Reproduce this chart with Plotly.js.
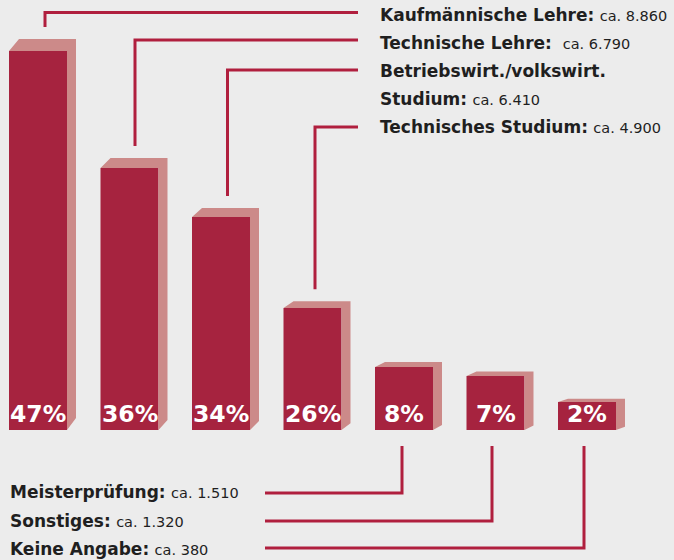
<!DOCTYPE html>
<html><head><meta charset="utf-8">
<script src="https://cdn.plot.ly/plotly-3.0.1.min.js"></script>
<style>html,body{margin:0;padding:0;background:#ECECEC;overflow:hidden}</style>
</head><body><div id="chart" style="width:674px;height:560px"></div>
<script>
// ---- data ----
const categories = ["Kaufmännische Lehre", "Technische Lehre", "Betriebswirt./volkswirt.|Studium", "Technisches Studium", "Meisterprüfung", "Sonstiges", "Keine Angabe"];
const counts = ["8.860", "6.790", "6.410", "4.900", "1.510", "1.320", "380"];
const percents = [47, 36, 34, 26, 8, 7, 2];
// drawn bar heights as shown in the picture (not proportional to the percentages)
const barHeights = [379, 262, 213, 122, 63, 54, 28];

// ---- layout constants (pixels) ----
const W = 674, H = 560, PX = 91.5, X0 = 38, BASE = 430;
const px2x = p => (p - X0) / PX;
const px2y = p => BASE - p;
const bw = 58 / PX, dxR = 9 / PX, dxL = 10 / PX;
const maxH = Math.max(...barHeights);
const depth = h => 12 * Math.sqrt(h / maxH);
const RED = "#A6233F", PINK = "#CC8A89", LINE = "#B01F3E", TXT = "#1F1F1F";
const FONT = "DejaVu Sans";
const BOLD_SIZE = 17, CA_SIZE = 14.5, PCT_SIZE = 23.5;

const idx = categories.map((_, i) => i);

// side / top faces
const sideTraces = idx.map(i => {
  const x0 = i - bw / 2, x1 = i + bw / 2, h = barHeights[i], d = depth(h);
  return {
    type: "scatter", mode: "lines", hoverinfo: "skip",
    x: [x0, x0 + dxL, x1 + dxR, x1 + dxR, x1, x1, x0],
    y: [h, h + d, h + d, d, 0, h, h],
    fill: "toself", fillcolor: PINK, line: {width: 0, color: PINK}
  };
});

const front = {
  type: "bar", x: idx, y: barHeights, width: bw,
  marker: {color: RED, line: {width: 0}}, hoverinfo: "skip"
};

// leader lines
const topLineY = [12.5, 40, 70, 127];
const topOffset = [7, 5.5, 6.5, 2.5];
const botLineY = [493, 521, 548];
const botOffset = [-2, -3.5, -3];
const shapes = [];
for (let i = 0; i < 4; i++) {
  const xv = i + topOffset[i] / PX;
  const yStart = barHeights[i] + depth(barHeights[i]) + 12;
  shapes.push({type: "path", xref: "x", yref: "y",
    path: `M ${xv} ${yStart} L ${xv} ${px2y(topLineY[i])} L ${px2x(358)} ${px2y(topLineY[i])}`,
    line: {color: LINE, width: 3}});
}
for (let k = 0; k < 3; k++) {
  const i = k + 4;
  const xv = i + botOffset[k] / PX;
  shapes.push({type: "path", xref: "x", yref: "y",
    path: `M ${xv} ${px2y(446)} L ${xv} ${px2y(botLineY[k])} L ${px2x(265)} ${px2y(botLineY[k])}`,
    line: {color: LINE, width: 3}});
}

// annotations
const annotations = [];
idx.forEach(i => annotations.push({
  x: i, y: 0, xref: "x", yref: "y", yanchor: "bottom", xanchor: "center",
  text: "<b>" + percents[i] + "%</b>", showarrow: false, yshift: 0,
  font: {family: FONT, size: PCT_SIZE, color: "#FFFFFF"}
}));
const topTextY = [15, 43, 71, 127];
const cnt = c => ` <span style="font-size:${CA_SIZE}px;font-weight:normal">ca. ${c}</span>`;
const lbl = (txt, px, py) => ({x: px2x(px), y: px2y(py), xref: "x", yref: "y", xanchor: "left", yanchor: "middle",
  text: txt, showarrow: false, font: {family: FONT, size: BOLD_SIZE, color: TXT}});
for (let i = 0; i < 4; i++) {
  const parts = categories[i].split("|");
  if (parts.length > 1) {
    annotations.push(lbl("<b>" + parts[0] + "</b>", 378, 71));
    annotations.push(lbl("<b>" + parts[1] + ":</b>" + cnt(counts[i]), 378, 99));
  } else {
    annotations.push(lbl("<b>" + parts[0] + ":</b>" + (i === 1 ? " " : "") + cnt(counts[i]), 378, topTextY[i]));
  }
}
const botTextY = [492, 521, 549];
for (let k = 0; k < 3; k++) {
  const i = k + 4;
  annotations.push(lbl("<b>" + categories[i] + ":</b>" + cnt(counts[i]), 8, botTextY[k]));
}

const axis = {visible: false, showgrid: false, zeroline: false, fixedrange: true};
const layout = {
  width: W, height: H, margin: {l: 0, r: 0, t: 0, b: 0, pad: 0},
  paper_bgcolor: "#ECECEC", plot_bgcolor: "#ECECEC", showlegend: false,
  xaxis: Object.assign({range: [px2x(0), px2x(W)]}, axis),
  yaxis: Object.assign({range: [px2y(H), px2y(0)]}, axis),
  shapes: shapes, annotations: annotations, hovermode: false
};
Plotly.newPlot("chart", sideTraces.concat([front]), layout, {staticPlot: true, displayModeBar: false});
</script></body></html>
